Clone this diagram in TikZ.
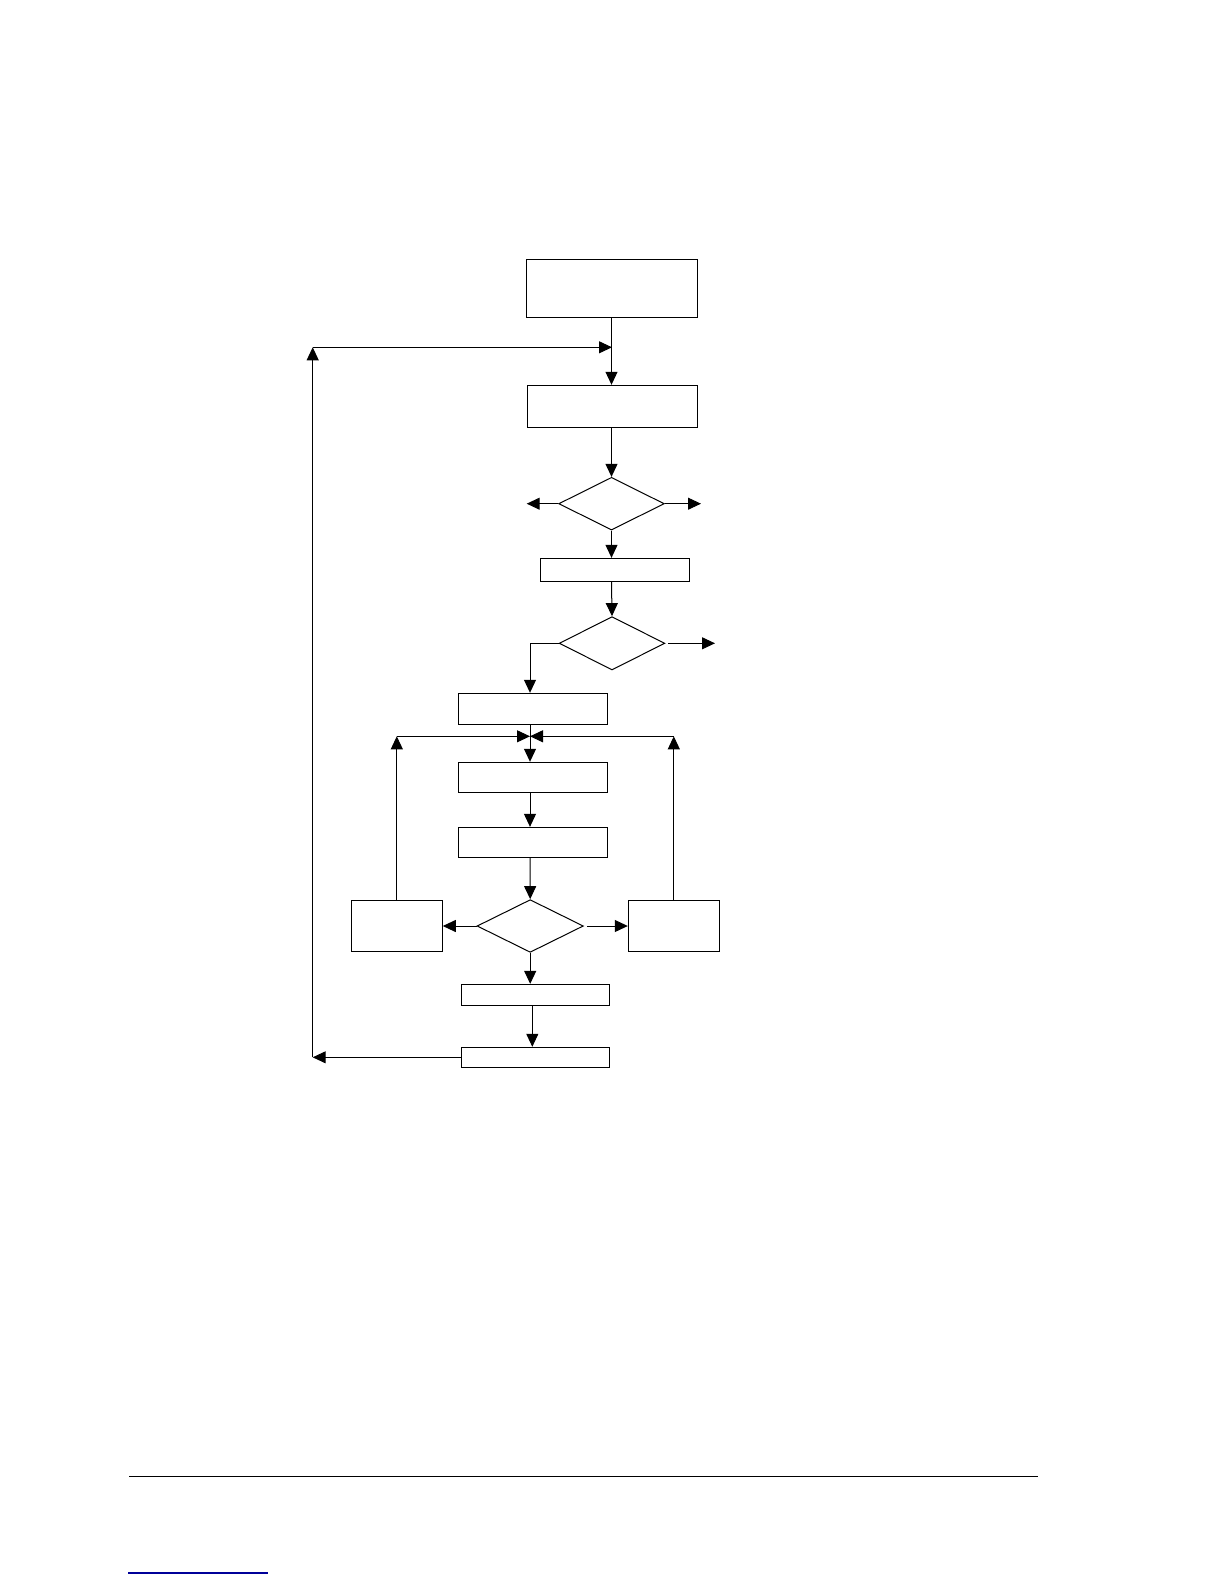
\documentclass[tikz,border=0pt]{standalone}
\usepackage{xcolor}
\usepackage{tikz}
\usetikzlibrary{arrows.meta,shapes.geometric}

\begin{document}
\begin{tikzpicture}[x=1pt, y=-1pt, line width=1pt,
  box/.style={draw, rectangle, inner sep=0pt},
  decision/.style={draw, diamond, inner sep=0pt},
  arr/.style={-{Triangle[length=13pt, width=12pt]}}]
  \useasboundingbox (0,0) rectangle (1224,1584);
  % main column
  \node[box, minimum width=171pt, minimum height=58pt] (start) at (611.5,288) {};
  \node[box, minimum width=170pt, minimum height=42pt] (init) at (612.3,406.3) {};
  \node[decision, minimum width=105.6pt, minimum height=52.7pt] (testA) at (611.5,503.7) {};
  \node[box, minimum width=149pt, minimum height=22.7pt] (stepA) at (614.8,569.7) {};
  \node[decision, minimum width=105.7pt, minimum height=53.3pt] (testB) at (612,643.3) {};
  \node[box, minimum width=149pt, minimum height=31pt] (stepB) at (532.8,708.8) {};
  \node[box, minimum width=149pt, minimum height=30pt] (stepC) at (532.8,777.3) {};
  \node[box, minimum width=149pt, minimum height=29.7pt] (stepD) at (532.8,842.2) {};
  \node[decision, minimum width=106.3pt, minimum height=52.7pt] (testC) at (530.2,926) {};
  \node[box, minimum width=91pt, minimum height=50.7pt] (sideL) at (396.8,926) {};
  \node[box, minimum width=91pt, minimum height=50.7pt] (sideR) at (673.8,926) {};
  \node[box, minimum width=148pt, minimum height=20.7pt] (stepE) at (535.3,994.7) {};
  \node[box, minimum width=148pt, minimum height=20pt] (stepF) at (535.3,1057.3) {};
  % free ends and corners
  \coordinate (joinTop) at (612,347.3);
  \coordinate (loopTL) at (312.7,347.3);
  \coordinate (loopBL) at (312.7,1057.3);
  \coordinate (outAL) at (526.7,503.7);
  \coordinate (outAR) at (701,503.7);
  \coordinate (outBR) at (715,643.3);
  \coordinate (joinMid) at (530,736.3);
  \coordinate (cornL) at (396.8,736.3);
  \coordinate (cornR) at (673.8,736.3);
  % connectors
  \draw[arr] (start.south) -- (start.south |- init.north);
  \draw[arr] (stepF.west) -- (loopBL);
  \draw[arr] (loopBL) -- (loopTL);
  \draw[arr] (loopTL) -- (joinTop);
  \draw[arr] (testA.north |- init.south) -- (testA.north);
  \draw[arr] (testA.west) -- (outAL);
  \draw[arr] (testA.east) -- (outAR);
  \draw[arr] (testA.south) -- (testA.south |- stepA.north);
  \draw[arr] (testA.south |- stepA.south) -- (testB.north);
  \draw[arr, shorten <=3pt] (testB.east) -- (outBR);
  \draw[arr] (testB.west) -| (joinMid |- stepB.north);
  \draw[arr] (joinMid |- stepB.south) -- (joinMid |- stepC.north);
  \draw[arr] (sideL.north) -- (cornL);
  \draw[arr] (cornL) -- (joinMid);
  \draw[arr] (sideR.north) -- (cornR);
  \draw[arr] (cornR) -- (joinMid);
  \draw[arr] (joinMid |- stepC.south) -- (joinMid |- stepD.north);
  \draw[arr] (joinMid |- stepD.south) -- (testC.north);
  \draw[arr] (testC.west) -- (sideL.east);
  \draw[arr, shorten <=3pt] (testC.east) -- (sideR.west);
  \draw[arr] (testC.south) -- (testC.south |- stepE.north);
  \draw[arr] (532.3,0 |- stepE.south) -- (532.3,0 |- stepF.north);
  % page rules
  \draw (129,1476.5) -- (1038,1476.5);
  \draw[blue!60!black, line width=1.3pt] (128,1573) -- (268,1573);
\end{tikzpicture}
\end{document}
